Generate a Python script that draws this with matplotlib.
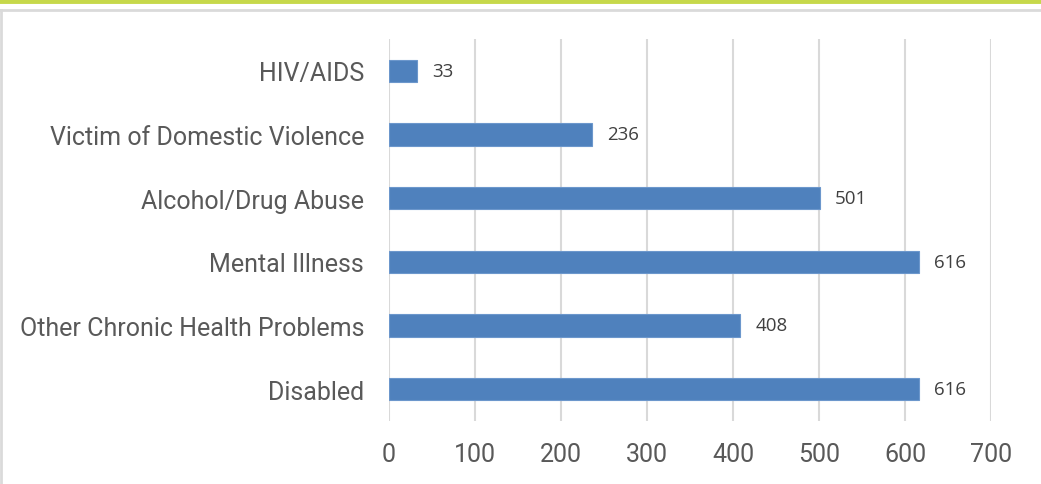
import matplotlib
matplotlib.use("Agg")
import matplotlib.pyplot as plt
from matplotlib.lines import Line2D

categories = ["HIV/AIDS", "Victim of Domestic Violence", "Alcohol/Drug Abuse",
              "Mental Illness", "Other Chronic Health Problems", "Disabled"]
values = [33, 236, 501, 616, 408, 616]
xticks = [0, 100, 200, 300, 400, 500, 600, 700]

fig = plt.figure(figsize=(10.41, 4.85), dpi=100)
ax = fig.add_axes([389/1041, 1-422/485, (991-389)/1041, (422-40)/485])

ypos = list(range(len(categories)))
ax.barh(ypos, values, height=0.35, color="#4f81bd", edgecolor="#6c97cc", linewidth=0.8, zorder=3)
ax.set_ylim(len(categories)-0.5, -0.5)
ax.set_xlim(0, 700)
ax.set_yticks(ypos)
ax.set_yticklabels(categories, fontsize=18, color="#595959", family="Roboto")
ax.set_xticks(xticks)
ax.set_xticklabels([str(t) for t in xticks], fontsize=18, color="#595959", family="Roboto")
ax.tick_params(length=0)
ax.tick_params(axis="y", pad=18)
ax.tick_params(axis="x", pad=15)
for s in ax.spines.values():
    s.set_visible(False)
ax.grid(axis="x", color="#d9d9d9", linewidth=1.5, zorder=0)
ax.set_axisbelow(True)

for y, v in zip(ypos, values):
    ax.annotate(str(v), (v, y), xytext=(11, 0), textcoords="offset points",
                va="center", ha="left", fontsize=13.5, color="#404040", family="Open Sans")

# decorative frame
fig.add_artist(Line2D([0, 1], [1-1.5/485, 1-1.5/485], transform=fig.transFigure,
                      color="#c6d84a", linewidth=3.5))
fig.add_artist(Line2D([0, 1], [1-11/485, 1-11/485], transform=fig.transFigure,
                      color="#dadada", linewidth=2))
fig.add_artist(Line2D([1/1041, 1/1041], [0, 1-11/485], transform=fig.transFigure,
                      color="#dadada", linewidth=2))

fig.savefig("out.png", dpi=100)
